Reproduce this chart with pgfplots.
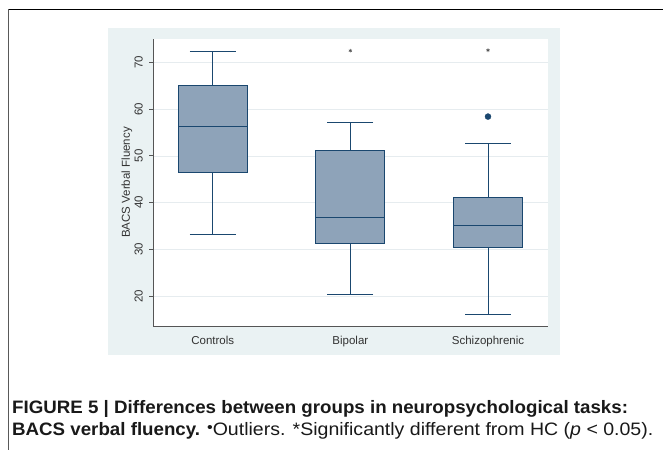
\documentclass[border=0pt]{standalone}
\usepackage{fontspec}
\setmainfont{Liberation Sans}
\newfontfamily\capfont[FakeStretch=1.04]{Liberation Sans}
\newfontfamily\capreg[FakeStretch=1.085]{Liberation Sans}
\usepackage{pgfplots}
\pgfplotsset{compat=1.18}
\usepgfplotslibrary{statistics}
\definecolor{navy}{HTML}{1A476F}
\definecolor{boxfill}{HTML}{8EA3B9}
\definecolor{panel}{HTML}{EAF2F3}
\definecolor{gridc}{HTML}{E6ECEF}
\definecolor{axisgray}{HTML}{555555}
\definecolor{txt}{HTML}{333333}
\begin{document}
\begin{tikzpicture}[x=1pt,y=1pt]
\useasboundingbox (0,0) rectangle (663,450);
\fill[white] (0,0) rectangle (663,450);
% frame
\draw[black, line width=1.3pt] (8,440.5) -- (663,440.5);
\draw[gray!70!black, line width=0.9pt] (8,440.5) -- (8,0);
% grey panel
\fill[panel] (108,95) rectangle (560,422);
\begin{axis}[
  at={(153pt,124pt)}, anchor=south west,
  width=395pt, height=287pt, scale only axis,
  xmin=0.566, xmax=3.436, ymin=13.6, ymax=75,
  axis background/.style={fill=white},
  axis x line*=bottom, axis y line*=left,
  axis line style={color=axisgray, line width=0.8pt},
  xtick={1,2,3}, xticklabels={Controls,Bipolar,Schizophrenic},
  major x tick style={draw=none},
  ytick={20,30,40,50,60,70},
  tick align=outside, major tick length=4pt,
  major y tick style={color=axisgray, line width=0.8pt},
  ymajorgrids, grid style={color=gridc, line width=0.7pt},
  tick label style={font=\fontsize{11.5}{12}\selectfont, color=txt},
  /pgf/number format/assume math mode=true,
  yticklabel style={rotate=90, anchor=south, inner sep=0pt, yshift=6pt},
  xticklabel style={anchor=north, inner sep=0pt, yshift=-6pt},
  ylabel={BACS Verbal Fluency},
  every axis y label/.style={at={(axis description cs:-0.066,0.5)}, rotate=90, anchor=center, font=\fontsize{11.5}{12}\selectfont, color=txt},
  boxplot/draw direction=y,
  clip=false,
]
\addplot[boxplot prepared={median=56.3, upper quartile=65.1, lower quartile=46.4, upper whisker=72.4, lower whisker=33.2, draw position=1, box extend=0.5, whisker extend=0.334}, draw=navy, fill=boxfill, line width=1pt, solid] coordinates {};
\addplot[boxplot prepared={median=36.8, upper quartile=51.2, lower quartile=31.25, upper whisker=57.15, lower whisker=20.3, draw position=2, box extend=0.5, whisker extend=0.334}, draw=navy, fill=boxfill, line width=1pt, solid] coordinates {};
\addplot[boxplot prepared={median=35.2, upper quartile=41.1, lower quartile=30.45, upper whisker=52.65, lower whisker=16.1, draw position=3, box extend=0.5, whisker extend=0.334}, draw=navy, fill=boxfill, line width=1pt, solid] coordinates {};
\addplot[only marks, mark=*, mark size=3pt, color=navy] coordinates {(3,58.4)};
\addplot[only marks, mark=asterisk, mark size=1.8pt, color=axisgray, mark options={line width=0.6pt}] coordinates {(2,72.5) (3,72.6)};
\end{axis}
% caption
\node[anchor=base west, inner sep=0pt, color=black!90] at (12,37) {\capfont\fontsize{18}{20}\selectfont\bfseries FIGURE 5 | Differences between groups in neuropsychological tasks:};
\node[anchor=base west, inner sep=0pt, color=black!90] at (12,15) {\capfont\fontsize{18}{20}\selectfont{\bfseries BACS verbal fluency.} \capreg{\fontsize{15}{15}\selectfont\raisebox{2.5pt}{•}}Outliers. *Significantly different from HC ({\itshape p} < 0.05).};
\end{tikzpicture}
\end{document}
